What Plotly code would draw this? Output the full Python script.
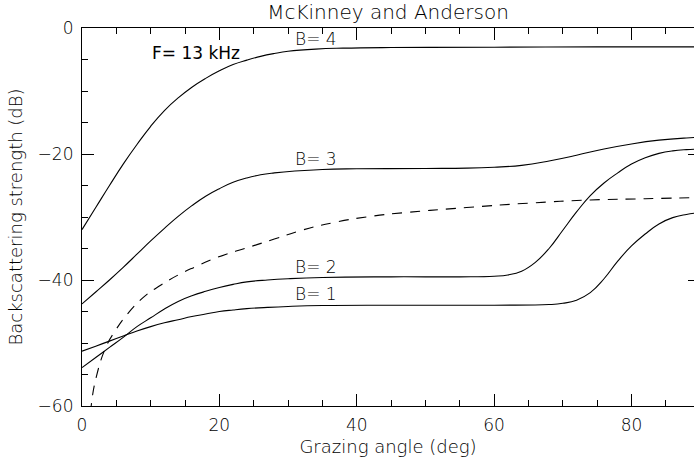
import plotly.graph_objects as go

# Backscattering strength vs grazing angle, McKinney & Anderson model, F = 13 kHz
b4_angle = [0, 2, 4, 6, 8, 10, 12, 14, 16, 18, 20, 22, 24, 26, 28, 30, 34, 38, 45, 60, 75, 90]
b4_db = [-32.0, -28.5, -25.0, -21.6, -18.5, -15.6, -13.1, -11.1, -9.4, -8.0, -6.8, -5.8,
         -5.1, -4.5, -4.05, -3.7, -3.35, -3.2, -3.1, -3.05, -3.0, -3.0]

b3_angle = [0, 2, 4, 6, 8, 10, 12, 14, 16, 18, 20, 22, 24, 26, 28, 31, 35, 40, 50, 56,
            60, 64, 68, 72, 76, 80, 84, 88, 90]
b3_db = [-43.8, -41.9, -40.0, -38.0, -35.9, -33.8, -31.8, -29.9, -28.2, -26.7, -25.5,
         -24.5, -23.8, -23.3, -23.0, -22.7, -22.45, -22.35, -22.3, -22.25, -22.1, -21.8,
         -21.1, -20.2, -19.2, -18.4, -17.8, -17.45, -17.35]

b2_angle = [0, 2, 4, 6, 8, 10, 12, 14, 16, 18, 20, 22, 24, 27, 30, 35, 45, 55, 60, 62,
            64, 66, 68, 70, 72, 74, 76, 78, 80, 82, 84, 86, 88, 90]
b2_db = [-53.9, -52.3, -50.7, -49.1, -47.4, -46.0, -44.6, -43.4, -42.5, -41.8, -41.2,
         -40.7, -40.3, -40.0, -39.8, -39.6, -39.5, -39.5, -39.4, -39.2, -38.6, -37.2,
         -35.0, -32.1, -29.2, -26.6, -24.6, -23.0, -21.6, -20.6, -19.9, -19.5, -19.3, -19.2]

b1_angle = [0, 2, 4, 6, 8, 10, 12, 14, 16, 18, 20, 22, 24, 27, 30, 35, 45, 60, 68, 70,
            72, 74, 76, 78, 80, 82, 84, 86, 88, 90]
b1_db = [-51.3, -50.5, -49.7, -48.9, -48.1, -47.4, -46.8, -46.3, -45.8, -45.4, -45.0,
         -44.75, -44.55, -44.35, -44.2, -44.05, -44.0, -44.0, -43.9, -43.7, -43.2, -42.0,
         -39.8, -37.0, -34.6, -32.7, -31.1, -30.1, -29.6, -29.3]

# dashed reference curve
ref_angle = [1.1, 1.36, 2.1, 3.5, 4.75, 6.7, 9.1, 11.5, 14, 16.5, 18.8, 21, 23.7, 28, 32,
             37, 42, 47, 56, 65, 74, 82, 90]
ref_db = [-64.0, -59.8, -55.3, -50.6, -48.2, -45.3, -42.6, -40.8, -39.2, -37.9, -36.8,
          -35.9, -35.0, -33.5, -32.1, -30.8, -29.9, -29.3, -28.5, -27.8, -27.3, -27.1, -26.9]

curve_labels = ["B= 4", "B= 3", "B= 2", "B= 1"]
label_angle = [34, 34, 34, 34]
label_db = [-1.75, -20.8, -37.9, -42.2]

FONT = "DejaVu Sans"
WEIGHT = 200
line_style = dict(color="black", width=1.1, shape="spline", smoothing=1.3)


def text_font(size, weight=WEIGHT):
    return dict(family=FONT, size=size, color="black", weight=weight)


fig = go.Figure()
for xs, ys in [(b4_angle, b4_db), (b3_angle, b3_db), (b2_angle, b2_db), (b1_angle, b1_db)]:
    fig.add_trace(go.Scatter(x=xs, y=ys, mode="lines", line=line_style,
                             showlegend=False, hoverinfo="skip"))
fig.add_trace(go.Scatter(x=ref_angle, y=ref_db, mode="lines", yaxis="y2",
                         line=dict(color="black", width=1.1, dash="10px,8px",
                                   shape="spline", smoothing=1.3),
                         showlegend=False, hoverinfo="skip"))

for txt, xa, ya in zip(curve_labels, label_angle, label_db):
    fig.add_annotation(x=xa, y=ya, text=txt, showarrow=False, xanchor="center",
                       yanchor="middle", font=text_font(17))
fig.add_annotation(x=9.9, y=-4.0, text="F= 13 kHz", showarrow=False, xanchor="left",
                   yanchor="middle", font=text_font(17, weight=400))

axis_common = dict(showgrid=False, zeroline=False, showline=True, linecolor="black",
                   linewidth=1.2, ticks="inside", ticklen=12, tickcolor="black",
                   tickwidth=1, tickfont=text_font(17))

fig.update_layout(
    width=694, height=465,
    margin=dict(l=82, r=0, t=28, b=59),
    paper_bgcolor="white", plot_bgcolor="white",
    title=dict(text="McKinney and Anderson", x=0.5, xref="paper", xanchor="center",
               y=1 - 12 / 465, yref="container", yanchor="middle",
               font=text_font(20)),
    xaxis=dict(range=[0, 89.1], tick0=0, dtick=20, mirror="ticks",
               minor=dict(ticks="inside", ticklen=6, dtick=5, tickcolor="black"),
               ticklabelstandoff=3,
               title=dict(text="Grazing angle (deg)", standoff=6, font=text_font(18)),
               **axis_common),
    yaxis=dict(range=[-60, 0], tick0=0, dtick=20,
               minor=dict(ticks="inside", ticklen=6, dtick=5, tickcolor="black"),
               ticklabelstandoff=4,
               title=dict(text="Backscattering strength (dB)", standoff=10,
                          font=text_font(18)),
               **axis_common),
    yaxis2=dict(overlaying="y", side="right", matches="y", showgrid=False,
                zeroline=False, showline=False, ticks="inside", ticklen=6,
                tickcolor="black", tickvals=[-60, -40, -20, 0], showticklabels=False),
)

fig.write_html("out.html")
